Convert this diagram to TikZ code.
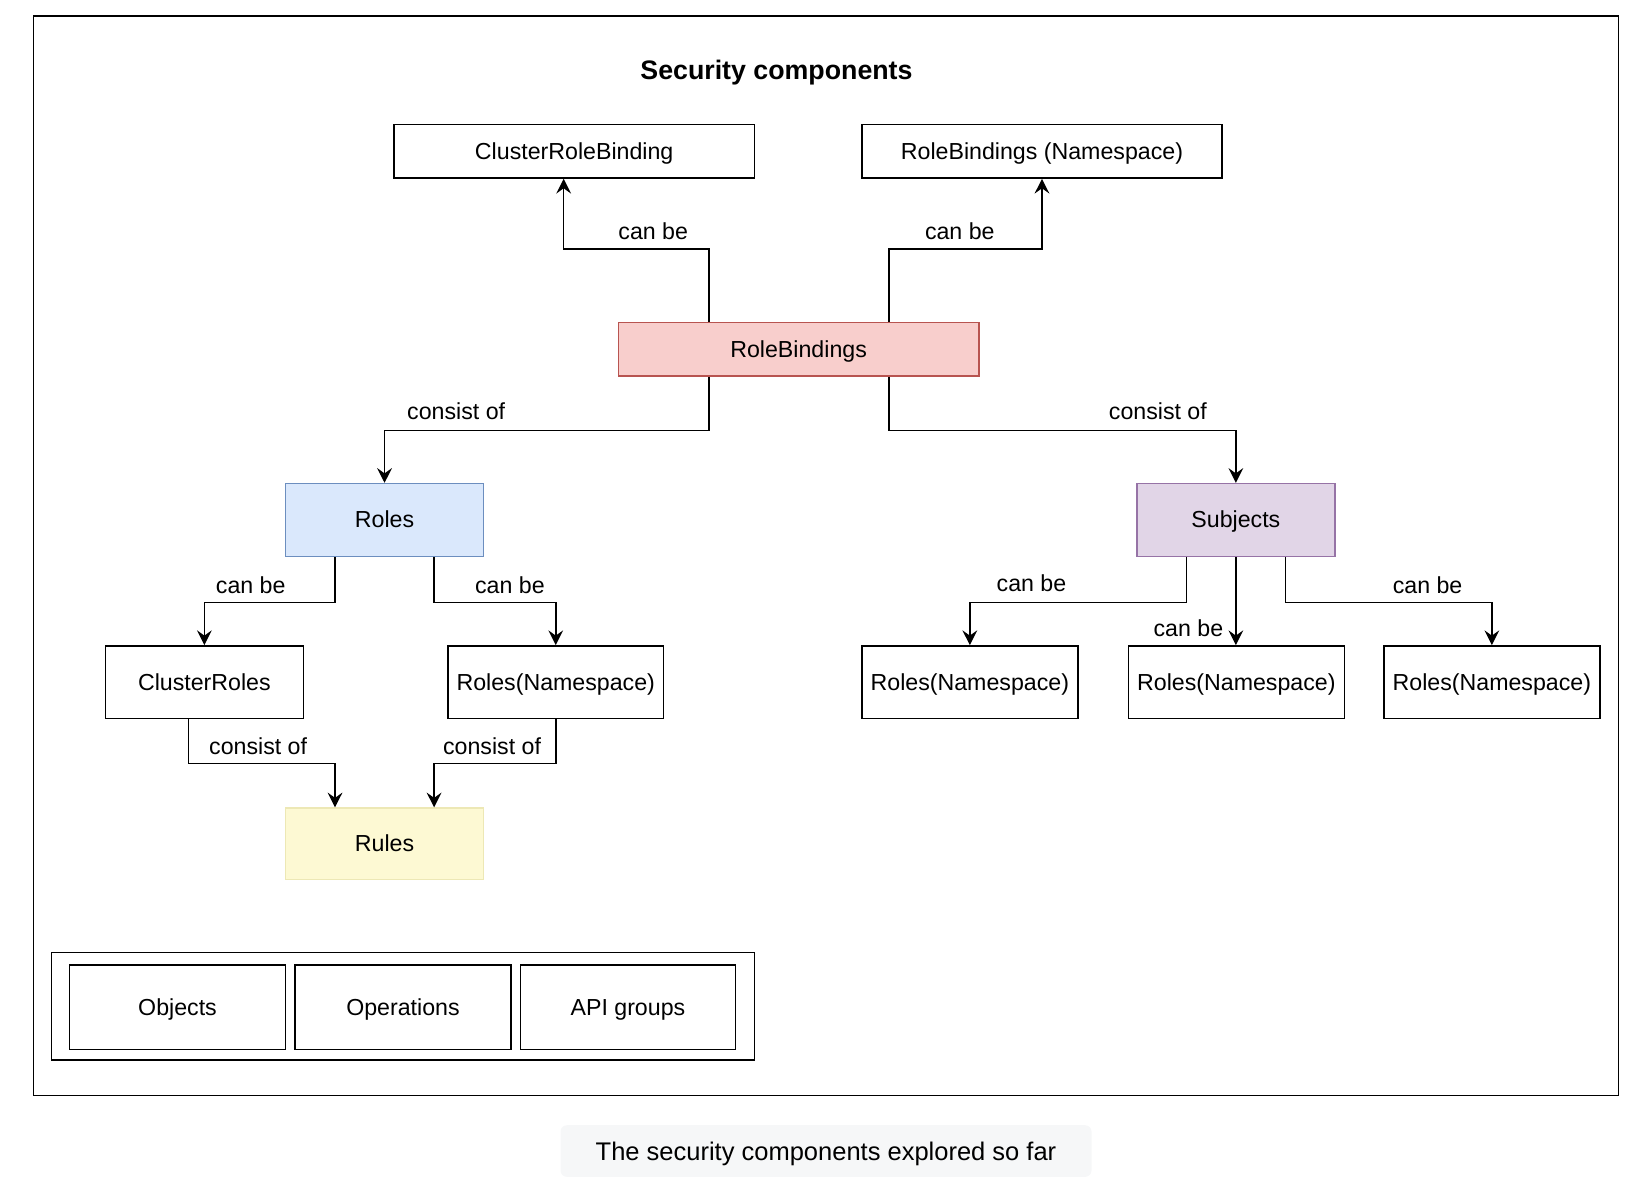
\documentclass[tikz,border=0pt]{standalone}
\usepackage{fontspec}
\setmainfont{Liberation Sans}
\usetikzlibrary{arrows.meta,calc}
\definecolor{rbfill}{HTML}{F8CECC}\definecolor{rbdraw}{HTML}{B85450}
\definecolor{rofill}{HTML}{DAE8FC}\definecolor{rodraw}{HTML}{6C8EBF}
\definecolor{sufill}{HTML}{E1D5E7}\definecolor{sudraw}{HTML}{9673A6}
\definecolor{rufill}{HTML}{FDF9D3}\definecolor{rudraw}{HTML}{EDE8B5}
\definecolor{capfill}{HTML}{F6F7F8}
\begin{document}
\begin{tikzpicture}[x=0.5pt,y=-0.5pt,
  txt/.style={font=\fontsize{11}{13}\selectfont, text height=0.75em, text depth=0em},
  box/.style={txt, draw=black, line width=0.7pt, rectangle, inner sep=0pt, align=center},
  wide/.style={box, minimum width=171pt, minimum height=25.5pt},
  mid/.style={box, minimum width=94pt, minimum height=34.5pt},
  nsbox/.style={box, minimum width=102.5pt, minimum height=34.5pt},
  part/.style={box, minimum width=102.5pt, minimum height=40pt},
  arr/.style={-{Stealth[length=7pt,width=7pt,inset=2.5pt]}, line width=0.75pt},
  lbl/.style={txt, inner sep=0pt},
]
\useasboundingbox (0,0) rectangle (1568,1126);
% outer frame
\draw[line width=0.7pt] (32,15) rectangle (1536,1040);
\node[font=\bfseries\fontsize{12.7}{15}\selectfont, yshift=-1.5pt] (title) at (737,66) {Security components};

% top row
\node[wide] (crb) at (545,143.5) {ClusterRoleBinding};
\node[wide] (rbn) at (989,143.5) {RoleBindings (Namespace)};
\node[wide, fill=rbfill, draw=rbdraw] (rb) at (758,331.5) {RoleBindings};

% second row
\node[mid, fill=rofill, draw=rodraw] (roles) at (365,493.5) {Roles};
\node[mid, fill=sufill, draw=sudraw] (subj) at (1173,493.5) {Subjects};

% third row
\node[mid] (cr) at (194,647.5) {ClusterRoles};
\node[nsbox] (rns) at (527.5,647.5) {Roles(Namespace)};
\node[nsbox] (s1) at (920.5,647.5) {Roles(Namespace)};
\node[nsbox] (s2) at (1173.5,647.5) {Roles(Namespace)};
\node[nsbox] (s3) at (1416,647.5) {Roles(Namespace)};

% rules
\node[mid, minimum height=34pt, fill=rufill, draw=rudraw] (rules) at (365,801) {Rules};

% bottom container
\node[draw=black, line width=0.7pt, minimum width=333.5pt, minimum height=51pt, inner sep=0pt] (cont) at (382.5,955) {};
\node[part] (obj) at (168.5,956) {Objects};
\node[part] (ops) at (382.5,956) {Operations};
\node[part, minimum width=102pt] (api) at (596,956) {API groups};

% connectors
\draw[arr] ($(rb.north)+(-85,0)$) -- ++(0,-69) -| ($(crb.south)+(-10,0)$);
\draw[arr] ($(rb.north)+(86,0)$) -- ++(0,-69) -| (rbn.south);
\draw[arr] ($(rb.south)+(-85,0)$) -- ++(0,51) -| (roles.north);
\draw[arr] ($(rb.south)+(86,0)$) -- ++(0,51) -| (subj.north);
\draw[arr] ($(roles.south)+(-47,0)$) -- ++(0,43) -| (cr.north);
\draw[arr] ($(roles.south)+(47,0)$) -- ++(0,43) -| (rns.north);
\draw[arr] ($(cr.south)+(-15,0)$) -- ++(0,42) -| ($(rules.north)+(-47,0)$);
\draw[arr] (rns.south) -- ++(0,42) -| ($(rules.north)+(47,0)$);
\draw[arr] ($(subj.south)+(-47,0)$) -- ++(0,43) -| (s1.north);
\draw[arr] (subj.south) -- (subj.south |- s2.north);
\draw[arr] ($(subj.south)+(47,0)$) -- ++(0,43) -| (s3.north);

% labels
\node[lbl] (l1) at (620,220) {can be};
\node[lbl] (l2) at (911,220) {can be};
\node[lbl] (l3) at (433,391) {consist of};
\node[lbl] (l4) at (1099,391) {consist of};
\node[lbl] (l5) at (238,556) {can be};
\node[lbl] (l6) at (484,556) {can be};
\node[lbl] (l7) at (245,709) {consist of};
\node[lbl] (l8) at (467,709) {consist of};
\node[lbl] (l9) at (979,554) {can be};
\node[lbl] (l10) at (1128,597) {can be};
\node[lbl] (l11) at (1355,556) {can be};

% caption
\fill[capfill, rounded corners=3pt] (532,1068) rectangle (1036,1117);
\node[font=\fontsize{12.1}{14}\selectfont, yshift=-1pt] (cap) at (784,1093) {The security components explored so far};
\end{tikzpicture}
\end{document}
